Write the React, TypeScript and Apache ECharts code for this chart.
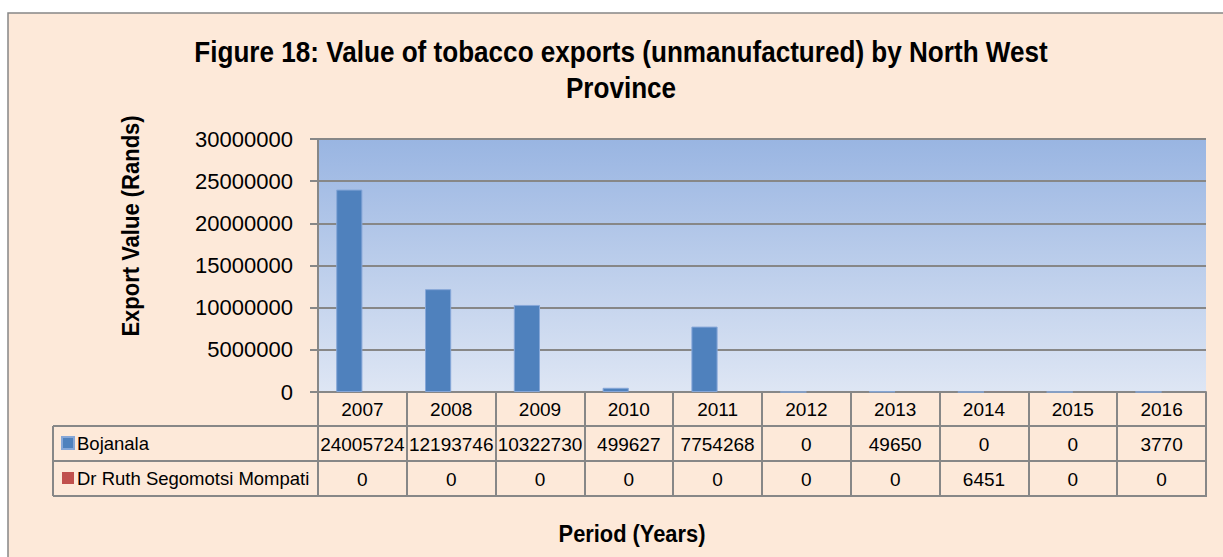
import React, { useEffect, useRef } from "react";
import * as echarts from "echarts";

const years = ["2007", "2008", "2009", "2010", "2011", "2012", "2013", "2014", "2015", "2016"];
const bojanala = [24005724, 12193746, 10322730, 499627, 7754268, 0, 49650, 0, 0, 3770];
const drRuth = [0, 0, 0, 0, 0, 0, 0, 6451, 0, 0];
const seriesNames = ["Bojanala", "Dr Ruth Segomotsi Mompati"];
const titleText = "Figure 18: Value of tobacco exports (unmanufactured) by North West\nProvince";
const yTitle = "Export Value (Rands)";
const xTitle = "Period (Years)";

const FONT = "'Liberation Sans', Arial, sans-serif";
const GRID_L = 318;
const GRID_T = 139;
const GRID_R = 1206;
const GRID_B = 392;
const ROW_H = 35;
const TABLE_L = 53;
const LINE = "#878787";

export default function App() {
  const ref = useRef<HTMLDivElement>(null);
  useEffect(() => {
    if (!ref.current) return;
    const chart = echarts.init(ref.current, null, { renderer: "svg" });
    const tableLines = [1, 2, 3].map((i) => ({
      type: "line",
      z: 10,
      shape: { x1: TABLE_L, y1: GRID_B + i * ROW_H - 1, x2: GRID_R, y2: GRID_B + i * ROW_H - 1 },
      style: { stroke: LINE, lineWidth: 2 },
    }));
    chart.setOption({
      animation: false,
      backgroundColor: "#ffffff",
      graphic: [
        {
          type: "rect",
          z: -10,
          shape: { x: 8, y: 13, width: 1400, height: 700 },
          style: { fill: "#FDE9D9", stroke: LINE, lineWidth: 1.5 },
        },
        {
          type: "text",
          x: 621,
          y: 70,
          scaleX: 0.9,
          style: {
            text: titleText,
            font: `bold 29px ${FONT}`,
            fill: "#000",
            textAlign: "center",
            textVerticalAlign: "middle",
            lineHeight: 36,
          },
        },
        {
          type: "text",
          x: 131,
          y: 226,
          rotation: Math.PI / 2,
          scaleX: 0.917,
          style: {
            text: yTitle,
            font: `bold 24px ${FONT}`,
            fill: "#000",
            textAlign: "center",
            textVerticalAlign: "middle",
          },
        },
        {
          type: "text",
          x: 632,
          y: 534,
          scaleX: 0.91,
          style: {
            text: xTitle,
            font: `bold 24px ${FONT}`,
            fill: "#000",
            textAlign: "center",
            textVerticalAlign: "middle",
          },
        },
        ...tableLines,
        {
          type: "line",
          z: 10,
          shape: { x1: TABLE_L, y1: GRID_B + ROW_H - 1, x2: TABLE_L, y2: GRID_B + 3 * ROW_H - 1 },
          style: { stroke: LINE, lineWidth: 2 },
        },
      ],
      legend: {
        orient: "vertical",
        left: 61,
        top: GRID_B + ROW_H + 4,
        padding: 0,
        itemWidth: 12,
        itemHeight: 12,
        itemGap: 11,
        icon: "rect",
        selectedMode: false,
        textStyle: { fontFamily: FONT, fontSize: 18.5, color: "#000", lineHeight: 24, padding: [0, 0, 0, -2] },
        data: seriesNames,
      },
      grid: {
        left: GRID_L,
        top: GRID_T,
        right: 1223 - GRID_R,
        bottom: 557 - GRID_B,
        show: true,
        borderWidth: 0,
        backgroundColor: {
          type: "linear",
          x: 0,
          y: 0,
          x2: 0,
          y2: 1,
          colorStops: [
            { offset: 0, color: "#99B5E2" },
            { offset: 1, color: "#DEE6F4" },
          ],
        },
      },
      xAxis: {
        type: "category",
        data: years,
        axisLine: { show: true, lineStyle: { color: LINE, width: 2 } },
        axisTick: { show: true, interval: 0, length: 3 * ROW_H, lineStyle: { color: LINE, width: 2 } },
        axisLabel: {
          interval: 0,
          margin: 0,
          formatter: (v: string, i: number) => `{a|${v}}\n{a|${bojanala[i]}}\n{a|${drRuth[i]}}`,
          rich: {
            a: { fontFamily: FONT, fontSize: 19, color: "#000", lineHeight: ROW_H, align: "center" },
          },
        },
      },
      yAxis: {
        type: "value",
        min: 0,
        max: 30000000,
        interval: 5000000,
        axisLine: { show: true, lineStyle: { color: LINE, width: 2 } },
        axisTick: { show: true, length: 8, lineStyle: { color: LINE, width: 2 } },
        axisLabel: {
          margin: 25,
          fontFamily: FONT,
          fontSize: 22,
          color: "#000",
          formatter: (v: number) => String(v),
        },
        splitLine: { show: true, lineStyle: { color: LINE, width: 2 } },
      },
      series: [
        {
          name: seriesNames[0],
          type: "bar",
          data: bojanala,
          barGap: "0%",
          barCategoryGap: "41%",
          itemStyle: { color: "#4F81BD", borderColor: "#86A7D8", borderWidth: 1 },
        },
        {
          name: seriesNames[1],
          type: "bar",
          data: drRuth,
          itemStyle: { color: "#C0504D" },
        },
      ],
    });
    return () => chart.dispose();
  }, []);
  return <div ref={ref} style={{ position: "fixed", left: 0, top: 0, width: 1223, height: 557 }} />;
}
